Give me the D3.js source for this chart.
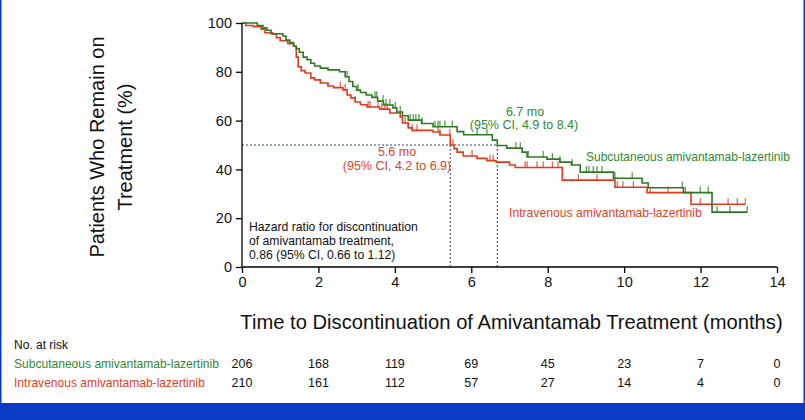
<!DOCTYPE html>
<html><head><meta charset="utf-8">
<script src="https://cdn.jsdelivr.net/npm/d3@7"></script>
<style>
html,body{margin:0;padding:0;background:#fff;}
svg{display:block;}
text{font-family:"Liberation Sans",Arial,sans-serif;}
</style></head>
<body>
<svg id="chart" width="805" height="420"></svg>
<script>
// ---------- DATA ----------
const xTicks = [0, 2, 4, 6, 8, 10, 12, 14];
const yTicks = [0, 20, 40, 60, 80, 100];

const seriesNames = ["Subcutaneous amivantamab-lazertinib", "Intravenous amivantamab-lazertinib"];

// Subcutaneous: step times (months) and % remaining after each step
const scTimes = [0, 0.4, 0.55, 0.65, 0.76, 1.07, 1.15, 1.25, 1.35, 1.42, 1.5, 1.6, 1.7, 1.8, 1.9, 2.05, 2.25, 2.55,
  2.7, 2.8, 2.9, 3.0, 3.1, 3.25, 3.4, 3.55, 3.7, 3.95, 4.05, 4.2, 4.35, 4.7, 5.0, 5.63, 5.8, 6.55, 6.68, 6.93,
  7.33, 7.46, 7.98, 8.32, 8.62, 8.85, 9.72, 10.47, 10.63, 11.55, 12.3];
const scSurv = [100, 99, 98, 97, 95.6, 94.7, 93, 92, 90.5, 89.5, 88, 86, 85, 83.5, 82.4, 81.5, 80.8, 80,
  78, 76, 74, 72.5, 71.5, 70.5, 69.5, 68, 66.4, 65.2, 63.5, 62, 60.2, 58.8, 57.5, 55.5, 54.2, 52, 49.8, 48.7,
  47.1, 45.1, 44.2, 43, 41.8, 38.9, 36.4, 34.4, 32.5, 30.5, 22.5];
const scEnd = 13.22;
const scCensor = [2.75, 3.04, 3.48, 3.53, 3.69, 3.77, 3.87, 4.01, 4.14, 4.40, 4.48, 4.55, 4.63, 4.71, 5.05, 5.13,
  5.18, 5.31, 5.50, 6.15, 6.41, 7.17, 7.28, 7.49, 7.88, 8.12, 8.32, 8.64, 9.01, 9.08, 9.19, 9.29, 9.42, 9.76,
  10.21, 11.52, 11.99, 12.20, 12.43, 12.77, 13.22];

// Intravenous
const ivTimes = [0, 0.1, 0.3, 0.5, 0.6, 0.8, 0.9, 1.0, 1.2, 1.35, 1.42, 1.47, 1.55, 1.65, 1.8, 1.9, 2.05, 2.25, 2.4,
  2.64, 2.75, 2.85, 2.96, 3.1, 3.27, 3.6, 3.87, 4.14, 4.2, 4.35, 4.45, 5.0, 5.18, 5.45, 5.55, 5.63, 5.79, 6.15,
  6.41, 6.65, 7.0, 7.15, 8.38, 9.76, 10.6, 11.75];
const ivSurv = [100, 99, 98.5, 97.5, 96, 95.5, 94, 92.7, 91.5, 90.5, 86, 82, 80.5, 79.5, 77.5, 76.7, 75.4, 74.2, 73.5,
  72.6, 70.5, 69.3, 67.6, 66.5, 65.6, 64.7, 63.1, 61.5, 59, 57, 56, 55.3, 54.1, 50, 48.5, 47.1, 45.5, 44.5,
  43.6, 43, 41.8, 40.8, 35.6, 32.7, 30.5, 25.7];
const ivEnd = 13.17;
const ivCensor = [2.57, 2.70, 2.96, 3.30, 3.35, 3.56, 3.66, 3.74, 3.80, 4.27, 4.35, 4.45, 4.58, 5.13, 5.18, 5.44,
  5.52, 6.02, 6.49, 6.57, 7.41, 7.46, 7.72, 7.88, 8.12, 8.27, 8.80, 9.29, 9.82, 9.97, 10.24, 10.68, 11.15,
  11.60, 11.99, 12.72, 12.96, 13.17];

const medians = [6.68, 5.45]; // where curves cross 50% (as drawn)
const riskTimes = [0, 2, 4, 6, 8, 10, 12, 14];
const riskSC = [206, 168, 119, 69, 45, 23, 7, 0];
const riskIV = [210, 161, 112, 57, 27, 14, 4, 0];

// ---------- DRAW ----------
const GREEN = "#2c7a22", RED = "#dd3b1c", GREEN_T = "#2f8a2f", RED_T = "#e0421f", DASH = "#2f4a58";
const svg = d3.select("#chart");
svg.append("rect").attr("width", 805).attr("height", 420).attr("fill", "#fff");

const x = d3.scaleLinear().domain([0, 14]).range([242, 777]);
const y = d3.scaleLinear().domain([0, 100]).range([267, 23]);

function fit(sel, w) {
  const n = sel.node();
  const fs = parseFloat(sel.attr("font-size"));
  const len = n.getComputedTextLength();
  sel.attr("font-size", (fs * w / len).toFixed(2));
}

// dashed median lines
const gD = svg.append("g").attr("stroke", DASH).attr("stroke-width", 1).attr("stroke-dasharray", "2,2").attr("fill", "none");
gD.append("line").attr("x1", x(0)).attr("x2", x(d3.max(medians))).attr("y1", y(50)).attr("y2", y(50));
medians.forEach(m => gD.append("line").attr("x1", x(m)).attr("x2", x(m)).attr("y1", y(50)).attr("y2", y(0)));

function stepVal(times, surv, t) {
  let v = surv[0];
  for (let i = 0; i < times.length; i++) { if (times[i] <= t) v = surv[i]; }
  return v;
}
const line = d3.line().x(d => x(d[0])).y(d => y(d[1])).curve(d3.curveStepAfter);

function drawCurve(times, surv, end, censor, color) {
  const pts = times.map((t, i) => [t, surv[i]]);
  pts.push([end, surv[surv.length - 1]]);
  svg.append("path").attr("d", line(pts)).attr("fill", "none").attr("stroke", color).attr("stroke-width", 1.6);
  svg.append("g").selectAll("line").data(censor).join("line")
    .attr("x1", d => x(d)).attr("x2", d => x(d))
    .attr("y1", d => y(stepVal(times, surv, d)))
    .attr("y2", d => y(stepVal(times, surv, d)) - 6)
    .attr("stroke", color).attr("stroke-width", 1);
}
drawCurve(ivTimes, ivSurv, ivEnd, ivCensor, RED);
drawCurve(scTimes, scSurv, scEnd, scCensor, GREEN);

// axes
const xAxis = svg.append("g").attr("transform", `translate(0,${y(0)})`)
  .call(d3.axisBottom(x).tickValues(xTicks).tickSize(6).tickPadding(4));
const yAxis = svg.append("g").attr("transform", `translate(${x(0)},0)`)
  .call(d3.axisLeft(y).tickValues(yTicks).tickSize(6).tickPadding(4));
[xAxis, yAxis].forEach(a => {
  a.select(".domain").attr("stroke", "#000").attr("stroke-width", 1.3);
  a.selectAll(".tick line").attr("stroke", "#000").attr("stroke-width", 1.3);
  a.selectAll(".tick text").attr("font-size", 14.5).attr("fill", "#111")
    .attr("font-family", '"Liberation Sans",Arial,sans-serif');
});
yAxis.select(".domain").attr("d", `M-0,${y(100)}V${y(0)}`);
xAxis.select(".domain").attr("d", `M${x(0)},0H${x(14)}`);

// axis titles
const xt = svg.append("text").attr("x", (240 + 783) / 2).attr("y", 329).attr("text-anchor", "middle")
  .attr("font-size", 20).attr("fill", "#111")
  .attr("font-family", '"Liberation Sans Narrow","Liberation Sans",Arial,sans-serif')
  .text("Time to Discontinuation of Amivantamab Treatment (months)");
fit(xt, 543);

const yt = svg.append("g").attr("transform", "translate(0,147) rotate(-90)");
yt.append("text").attr("x", 0).attr("y", 97).attr("dominant-baseline", "central").attr("text-anchor", "middle")
  .attr("font-size", 20).attr("fill", "#111").text("Patients Who Remain on");
yt.append("text").attr("x", 0).attr("y", 125).attr("dominant-baseline", "central").attr("text-anchor", "middle")
  .attr("font-size", 20).attr("fill", "#111").text("Treatment (%)");

// annotations
function ann(txt, cx, cy, color, size, anchor) {
  return svg.append("text").attr("x", cx).attr("y", cy).attr("dominant-baseline", "central")
    .attr("text-anchor", anchor || "middle").attr("font-size", size).attr("fill", color).text(txt);
}
ann("6.7 mo", 525, 112, GREEN_T, 12.5);
ann("(95% CI, 4.9 to 8.4)", 524, 125, GREEN_T, 12.5);
ann("5.6 mo", 397, 152, RED_T, 12.5);
ann("(95% CI, 4.2 to 6.9)", 397, 166, RED_T, 12.5);
const l1 = ann(seriesNames[0], 586, 157, GREEN_T, 13, "start"); fit(l1, 204);
const l2 = ann(seriesNames[1], 509, 213, RED_T, 13, "start"); fit(l2, 193);
ann("Hazard ratio for discontinuation", 249, 227, "#111", 12.2, "start");
ann("of amivantamab treatment,", 249, 241, "#111", 12.2, "start");
ann("0.86 (95% CI, 0.66 to 1.12)", 249, 255, "#111", 12.2, "start");

// risk table
const narrow = '"Liberation Sans Narrow","Liberation Sans",Arial,sans-serif';
svg.append("text").attr("x", 14).attr("y", 345).attr("dominant-baseline", "central")
  .attr("font-size", 12).attr("font-family", narrow).attr("fill", "#111").text("No. at risk");
const r1 = svg.append("text").attr("x", 14).attr("y", 364).attr("dominant-baseline", "central")
  .attr("font-size", 12).attr("font-family", narrow).attr("fill", GREEN_T).text(seriesNames[0]);
fit(r1, 205);
const r2 = svg.append("text").attr("x", 14).attr("y", 383).attr("dominant-baseline", "central")
  .attr("font-size", 12).attr("font-family", narrow).attr("fill", RED_T).text(seriesNames[1]);
fit(r2, 191);
[[riskSC, 364], [riskIV, 383]].forEach(([arr, yy]) => {
  svg.append("g").selectAll("text").data(arr).join("text")
    .attr("x", (d, i) => x(riskTimes[i])).attr("y", yy).attr("dominant-baseline", "central")
    .attr("text-anchor", "middle").attr("font-size", 12.5).attr("font-family", narrow).attr("fill", "#111")
    .text(d => d);
});

// frame
const BLUE = "#0b3bc6";
svg.append("rect").attr("x", 0).attr("y", 403).attr("width", 805).attr("height", 17).attr("fill", BLUE);
svg.append("rect").attr("x", 0).attr("y", 0).attr("width", 1.5).attr("height", 420).attr("fill", BLUE);
svg.append("rect").attr("x", 803.5).attr("y", 0).attr("width", 1.5).attr("height", 420).attr("fill", BLUE);
</script>
</body></html>
